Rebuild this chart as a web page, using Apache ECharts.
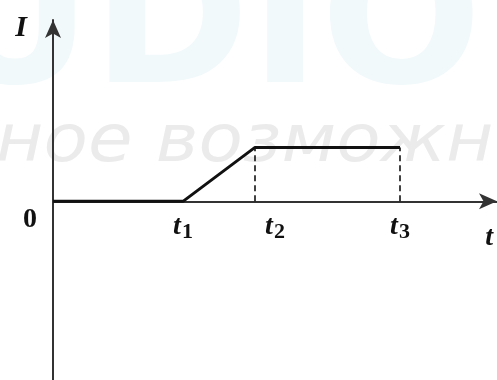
<!DOCTYPE html>
<html>
<head>
<meta charset="utf-8">
<script src="https://cdn.jsdelivr.net/npm/echarts@6/dist/echarts.min.js"></script>
<style>
  html, body { margin: 0; padding: 0; background: #ffffff; }
  #chart { width: 497px; height: 380px; }
</style>
</head>
<body>
<div id="chart"></div>
<script>
// Current I(t): zero until t1, linear rise until t2, constant until t3
const timePoints = [0, 2.6, 4.04, 6.94];
const currentValues = [0, 0, 1, 1];
// Moments marked on the time axis
const markedTimes = [2.6, 4.04, 6.94];
const markedLabels = ['1', '2', '3'];
// Moments with dashed guides down to the axis
const guideTimes = [4.04, 6.94];
const guideLevel = 1;
const watermarkText = 'ное возможн';
const backdropText = 'STUDIO';

const serif = '"Liberation Serif", "DejaVu Serif", serif';

// Plot area and value ranges
const gridTop = 20, gridBottom = 0, chartHeight = 380;
const yMin = -3.31, yMax = 3.36;
// The time axis runs through I = 0 inside the plot area
const plotHeight = chartHeight - gridTop - gridBottom;
const timeAxisOffset = -plotHeight * (0 - yMin) / (yMax - yMin);

const curve = timePoints.map((t, i) => [t, currentValues[i]]);
const guides = guideTimes.map(t => ({
  type: 'line',
  data: [[t, 0], [t, guideLevel]],
  symbol: 'none',
  silent: true,
  z: 3,
  lineStyle: { color: '#111', width: 1.6, type: [6, 4] }
}));

const chart = echarts.init(document.getElementById('chart'), null, { renderer: 'canvas' });
chart.setOption({
  animation: false,
  backgroundColor: '#ffffff',
  grid: { left: 53, right: 0, top: gridTop, bottom: gridBottom, containLabel: false, outerBoundsMode: 'none' },
  graphic: [{
    type: 'text',
    x: 482,
    y: 128,
    z: -11,
    silent: true,
    style: {
      text: backdropText,
      font: 'bold 190px "DejaVu Sans", sans-serif',
      fill: '#f1f9fb',
      align: 'right',
      verticalAlign: 'bottom'
    }
  }, {
    type: 'text',
    x: -4,
    y: 111,
    scaleX: 1.1,
    z: -10,
    silent: true,
    style: {
      text: watermarkText,
      font: 'italic 66px "DejaVu Sans", sans-serif',
      fill: '#ebebeb',
      verticalAlign: 'top'
    }
  }],
  xAxis: {
    type: 'value',
    min: 0,
    max: 8.88,
    position: 'bottom',
    offset: timeAxisOffset,
    name: 't',
    nameLocation: 'end',
    nameGap: -4,
    nameTextStyle: {
      fontFamily: serif, fontStyle: 'italic', fontWeight: 'bold', fontSize: 28,
      color: '#111', align: 'right', verticalAlign: 'top', padding: [22, 0, 0, 0]
    },
    splitLine: { show: false },
    axisTick: { show: false },
    axisLine: {
      onZero: false,
      symbol: ['none', 'arrow'],
      symbolSize: [12, 18],
      lineStyle: { color: '#333', width: 2 }
    },
    axisLabel: {
      customValues: markedTimes,
      margin: 8,
      formatter: function (v) {
        const i = markedTimes.indexOf(v);
        const pre = i === 1 ? '{gap|}' : '';
        return pre + '{t|t}{s|' + markedLabels[i] + '}';
      },
      rich: {
        gap: { width: 40 },
        t: { fontFamily: serif, fontStyle: 'italic', fontWeight: 'bold', fontSize: 28, color: '#111' },
        s: { fontFamily: serif, fontWeight: 'bold', fontSize: 22, color: '#111', padding: [12, 0, 0, 1] }
      }
    }
  },
  yAxis: {
    type: 'value',
    min: yMin,
    max: yMax,
    name: 'I',
    nameLocation: 'end',
    nameGap: -8,
    nameTextStyle: {
      fontFamily: serif, fontStyle: 'italic', fontWeight: 'bold', fontSize: 30,
      color: '#111', align: 'right', verticalAlign: 'middle', padding: [0, 26, 0, 0]
    },
    splitLine: { show: false },
    axisTick: { show: false },
    axisLine: {
      onZero: false,
      symbol: ['none', 'arrow'],
      symbolSize: [12, 18],
      lineStyle: { color: '#333', width: 2 }
    },
    axisLabel: {
      customValues: [0],
      margin: 16,
      verticalAlign: 'top',
      padding: [3, 0, 0, 0],
      formatter: function () { return '0'; },
      fontFamily: serif, fontWeight: 'bold', fontSize: 28, color: '#111',
      lineHeight: 30
    }
  },
  series: [{
    type: 'line',
    data: curve,
    symbol: 'none',
    silent: true,
    z: 4,
    lineStyle: { color: '#111', width: 3 }
  }].concat(guides)
});
</script>
</body>
</html>
